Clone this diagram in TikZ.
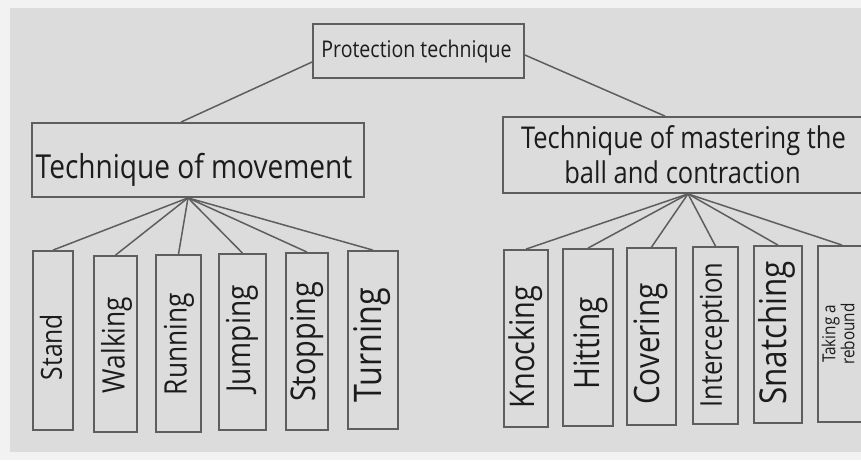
\documentclass[tikz,border=0pt]{standalone}
\usepackage{fontspec}
\setmainfont{Open Sans}[FakeStretch=0.85]
\definecolor{bgc}{HTML}{DCDCDC}
\definecolor{edgec}{HTML}{F2F2F2}
\definecolor{linec}{HTML}{5E5E5E}
\definecolor{txtc}{HTML}{1C1C1C}
\begin{document}
\begin{tikzpicture}[x=1pt,y=-1pt,
  box/.style={draw=linec,line width=1.8pt,inner sep=0pt},
  conn/.style={draw=linec,line width=1.5pt},
  lbl/.style={text=txtc,inner sep=0pt},
  vlbl/.style={lbl,rotate=90},
  fs/.style={font=\fontsize{#1}{#1}\selectfont}]
\useasboundingbox (0,0) rectangle (861,460);
\clip (0,0) rectangle (861,460);
\fill[edgec] (0,0) rectangle (861,460);
\fill[bgc] (10,8) rectangle (861,452);

% top
\node[box,minimum width=211,minimum height=54] (p) at (418.5,51) {};
\node[lbl,anchor=base,fs=23] (pt) at (416.5,57) {Protection technique};

% second level
\node[box,minimum width=332,minimum height=74] (m) at (198,160) {};
\node[lbl,anchor=base,fs=33] (mt) at (194,178) {Technique of movement};

\node[box,minimum width=363,minimum height=76] (ms) at (684.5,155) {};
\node[lbl,anchor=base,fs=30] (mst1) at (683.5,148) {Technique of mastering the};
\node[lbl,anchor=base,fs=30] (mst2) at (682.5,183) {ball and contraction};

\draw[conn] ([yshift=-11pt]p.west) -- ([xshift=-17pt]m.north);
\draw[conn] ([yshift=-4pt]p.east) -- ([xshift=-19.5pt]ms.north);

% left leaves
\node[box,minimum width=40,minimum height=179] (l1) at (53,340.5) {};
\node[box,minimum width=43,minimum height=176] (l2) at (115.5,344) {};
\node[box,minimum width=45,minimum height=177] (l3) at (178.5,343.5) {};
\node[box,minimum width=47,minimum height=176] (l4) at (242.5,342) {};
\node[box,minimum width=42,minimum height=177] (l5) at (307,341.5) {};
\node[box,minimum width=50,minimum height=178] (l6) at (373,340) {};

\node[vlbl,fs=29] (l1t) at (51,347) {Stand};
\node[vlbl,fs=31] (l2t) at (116.5,345) {Walking};
\node[vlbl,fs=31] (l3t) at (179,344) {Running};
\node[vlbl,fs=33] (l4t) at (242.5,339) {Jumping};
\node[vlbl,fs=34] (l5t) at (307.5,342) {Stopping};
\node[vlbl,fs=38] (l6t) at (372.5,345) {Turning};

\coordinate (ma) at ([xshift=-10pt]m.south);
\foreach \c in {l1,l2,l3,l4,l5,l6} \draw[conn] (ma) -- (\c.north);

% right leaves
\node[box,minimum width=44,minimum height=177] (r1) at (526,338.5) {};
\node[box,minimum width=50,minimum height=177] (r2) at (588,337.5) {};
\node[box,minimum width=49,minimum height=177] (r3) at (651.5,336.5) {};
\node[box,minimum width=45,minimum height=177] (r4) at (715.5,335.5) {};
\node[box,minimum width=48,minimum height=177] (r5) at (778,334.5) {};
\node[box,minimum width=48,minimum height=176] (r6) at (842,334) {};

\node[vlbl,fs=34] (r1t) at (525.5,347) {Knocking};
\node[vlbl,fs=35] (r2t) at (591,343.5) {Hitting};
\node[vlbl,fs=35] (r3t) at (651,344) {Covering};
\node[vlbl,fs=30] (r4t) at (714.5,335) {Interception};
\node[vlbl,fs=37] (r5t) at (776.5,333) {Snatching};
\node[vlbl,align=center,font=\fontsize{18}{17}\selectfont] (r6t) at (838,334) {Taking a\\rebound};

\coordinate (sa) at ([xshift=3.5pt]ms.south);
\foreach \c in {r1,r2,r3,r4,r5,r6} \draw[conn] (sa) -- (\c.north);
\end{tikzpicture}
\end{document}
